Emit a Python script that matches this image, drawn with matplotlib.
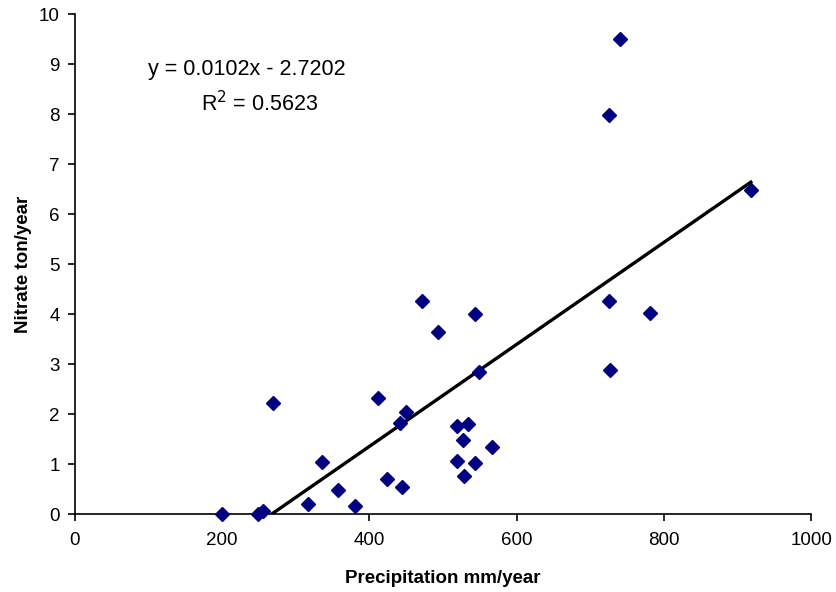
import matplotlib
matplotlib.use("Agg")
import matplotlib.pyplot as plt
import numpy as np

plt.rcParams['font.family'] = ['Liberation Sans', 'DejaVu Sans']

precip = [200, 248, 256, 269, 317, 336, 357, 380, 411, 424,
          471, 544, 493, 549, 449, 442, 519, 534, 527, 567,
          519, 543, 529, 444, 741, 725, 918, 725, 781, 727]
nitrate = [0.00, 0.00, 0.07, 2.22, 0.21, 1.05, 0.49, 0.17, 2.32, 0.70,
           4.27, 4.00, 3.65, 2.85, 2.05, 1.83, 1.77, 1.81, 1.49, 1.35,
           1.07, 1.02, 0.77, 0.55, 9.51, 7.98, 6.49, 4.27, 4.03, 2.88]

slope = 0.0102
intercept = -2.7202
eq_text = "y = 0.0102x - 2.7202"
r2_text = "R$^2$ = 0.5623"

fig = plt.figure(figsize=(8.36, 5.92), dpi=100)
ax = fig.add_axes([0.0897, 0.1312, 0.8806, 0.8446])

x0 = -intercept / slope
x1 = max(precip)
xs = np.array([x0, x1])
ax.plot(xs, slope * xs + intercept, color='black', lw=2.4, zorder=2)
ax.plot(precip, nitrate, linestyle='none', marker='D', markersize=7,
        color='#000080', zorder=3, clip_on=False)

ax.set_xlim(0, 1000)
ax.set_ylim(0, 10)
ax.set_xticks(np.arange(0, 1001, 200))
ax.set_yticks(np.arange(0, 11, 1))
for s in ['top', 'right']:
    ax.spines[s].set_visible(False)
for s in ['left', 'bottom']:
    ax.spines[s].set_linewidth(1.2)
ax.tick_params(direction='out', length=5, width=1.2, labelsize=13.5)
ax.tick_params(axis='x', pad=8)
ax.tick_params(axis='y', pad=6)
ax.set_xlabel('Precipitation mm/year', fontsize=13.5, fontweight='bold', labelpad=15)
ax.set_ylabel('Nitrate ton/year', fontsize=13.5, fontweight='bold', labelpad=5)

ax.text(234, 8.89, eq_text, fontsize=15.5, ha='center', va='center')
ax.text(251, 8.21, r2_text, fontsize=15.5, ha='center', va='center')

fig.savefig('out.png', dpi=100)
